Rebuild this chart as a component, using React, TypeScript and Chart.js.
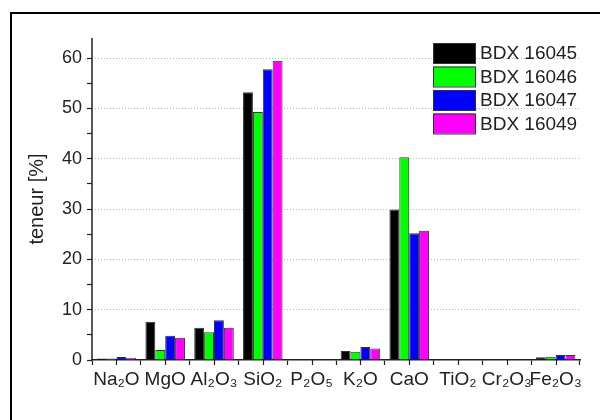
import React, { useEffect, useRef } from "react";
import { Chart, registerables } from "chart.js";

Chart.register(...registerables);

const categories = ["Na₂O", "MgO", "Al₂O₃", "SiO₂", "P₂O₅", "K₂O", "CaO", "TiO₂", "Cr₂O₃", "Fe₂O₃"];
const seriesNames = ["BDX 16045", "BDX 16046", "BDX 16047", "BDX 16049"];
const bdx16045 = [0.3, 7.6, 6.4, 53.2, 0, 1.8, 29.9, 0, 0.1, 0.55];
const bdx16046 = [0.3, 2.0, 5.5, 49.3, 0, 1.65, 40.3, 0, 0.1, 0.65];
const bdx16047 = [0.6, 4.8, 7.9, 57.8, 0, 2.6, 25.2, 0, 0.1, 1.0];
const bdx16049 = [0.45, 4.4, 6.4, 59.5, 0, 2.3, 25.7, 0, 0.1, 1.0];
const seriesColors = ["#000000", "#00ff00", "#0000ff", "#ff00ff"];
const yTickValues = [0, 5, 10, 15, 20, 25, 30, 35, 40, 45, 50, 55, 60];
const yMin = 0;
const yMax = 64;
const yTitle = "teneur [%]";

const FONT = "'Liberation Sans', Arial, sans-serif";

const axisExtras = {
  id: "axisExtras",
  afterDraw(chart: any) {
    const x = chart.scales.x;
    const area = chart.chartArea;
    const ctx = chart.ctx;
    ctx.save();
    ctx.strokeStyle = "#222";
    ctx.lineWidth = 1.2;
    for (let i = 0; i < categories.length; i++) {
      const px = Math.round(x.getPixelForValue(i)) + 0.5;
      ctx.beginPath();
      ctx.moveTo(px, x.top);
      ctx.lineTo(px, x.top + 5);
      ctx.stroke();
    }
    ctx.lineWidth = 1.5;
    ctx.beginPath();
    ctx.moveTo(area.left, area.top);
    ctx.lineTo(area.left, area.bottom + 0.75);
    ctx.stroke();
    ctx.restore();
  },
};

const boxLegend = {
  id: "boxLegend",
  afterDraw(chart: any) {
    const ctx = chart.ctx;
    const area = chart.chartArea;
    const bx = area.right - 147;
    const by = area.top + 5;
    const bw = 42;
    const bh = 20;
    const gap = 23.5;
    ctx.save();
    chart.data.datasets.forEach((ds: any, i: number) => {
      const y = by + i * gap;
      ctx.fillStyle = ds.backgroundColor;
      ctx.fillRect(bx, y, bw, bh);
      ctx.strokeStyle = "#333";
      ctx.lineWidth = 1;
      ctx.strokeRect(bx + 0.5, y + 0.5, bw, bh);
      ctx.fillStyle = "#222";
      ctx.font = `19px ${FONT}`;
      ctx.textBaseline = "middle";
      ctx.textAlign = "left";
      ctx.fillText(ds.label, bx + 47, y + bh / 2 + 1);
    });
    ctx.restore();
  },
};

export default function App() {
  const canvasRef = useRef<HTMLCanvasElement | null>(null);

  useEffect(() => {
    if (!canvasRef.current) return;
    const values = [bdx16045, bdx16046, bdx16047, bdx16049];
    const chart = new Chart(canvasRef.current, {
      type: "bar",
      data: {
        labels: categories,
        datasets: seriesNames.map((name, i) => ({
          label: name,
          data: values[i],
          backgroundColor: seriesColors[i],
          borderColor: "#333",
          borderWidth: 1,
          categoryPercentage: 0.81,
          barPercentage: 1,
        })),
      },
      options: {
        animation: false,
        responsive: false,
        layout: { padding: { left: 0, top: 38, right: 20, bottom: 0 } },
        plugins: {
          legend: { display: false },
          tooltip: { enabled: false },
        },
        scales: {
          x: {
            offset: true,
            grid: {
              offset: true,
              drawOnChartArea: false,
              tickLength: 5,
              tickColor: "#222",
              tickWidth: 1.2,
            },
            border: { color: "#222", width: 1.5 },
            ticks: {
              autoSkip: false,
              maxRotation: 0,
              minRotation: 0,
              padding: 3,
              color: "#222",
              font: { family: FONT, size: 19 },
            },
            afterFit(scale: any) {
              scale.height = 60;
            },
          },
          y: {
            min: yMin,
            max: yMax,
            ticks: {
              padding: 5,
              color: "#222",
              font: { family: FONT, size: 18 },
              callback: (v: any) => (Number(v) % 10 === 0 ? String(v) : ""),
            },
            afterBuildTicks(scale: any) {
              scale.ticks = yTickValues.map((v) => ({ value: v }));
            },
            grid: {
              tickLength: 5,
              tickColor: "#222",
              tickWidth: 1.2,
              tickBorderDash: [],
              color: (c: any) =>
                c.tick && c.tick.value % 10 === 0 && c.tick.value !== 0 ? "#b8b8b8" : "rgba(0,0,0,0)",
              lineWidth: 1,
            },
            border: { display: false, dash: [1, 2] },
            title: {
              display: true,
              text: yTitle,
              color: "#222",
              font: { family: FONT, size: 20 },
              padding: { top: 25, bottom: 0 },
            },
            afterFit(scale: any) {
              scale.width = 92;
            },
          },
        },
      },
      plugins: [axisExtras, boxLegend],
    });
    return () => chart.destroy();
  }, []);

  return (
    <div style={{ position: "fixed", left: 0, top: 0, width: 600, height: 420, background: "#fff", overflow: "hidden" }}>
      <div
        style={{
          position: "absolute",
          left: 10,
          top: 12,
          width: 620,
          height: 440,
          borderTop: "2px solid #000",
          borderLeft: "2px solid #000",
        }}
      />
      <canvas ref={canvasRef} width={600} height={420} style={{ position: "absolute", left: 0, top: 0 }} />
    </div>
  );
}
